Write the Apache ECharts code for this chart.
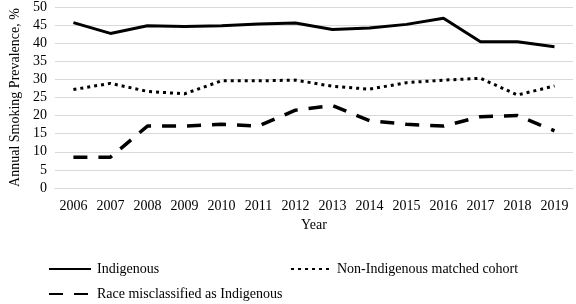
<!DOCTYPE html>
<html>
<head>
<meta charset="utf-8">
<script src="https://cdn.jsdelivr.net/npm/echarts@6/dist/echarts.min.js"></script>
<style>
html, body { margin: 0; padding: 0; background: #fff; }
#chart { width: 576px; height: 304px; }
</style>
</head>
<body>
<div id="chart"></div>
<script>
// 年份与三组吸烟率（%）
const years = ['2006', '2007', '2008', '2009', '2010', '2011', '2012', '2013', '2014', '2015', '2016', '2017', '2018', '2019'];
const indigenous = [45.7, 42.7, 44.8, 44.6, 44.8, 45.3, 45.6, 43.8, 44.2, 45.2, 46.9, 40.4, 40.4, 39.0];
const nonIndigenous = [27.2, 28.9, 26.7, 26.0, 29.6, 29.6, 29.8, 28.1, 27.3, 29.1, 29.8, 30.3, 25.7, 28.2];
const misclassified = [8.5, 8.5, 17.1, 17.1, 17.6, 17.1, 21.5, 22.8, 18.6, 17.6, 17.1, 19.7, 20.0, 15.8];

const names = ['Indigenous', 'Non-Indigenous matched cohort', 'Race misclassified as Indigenous'];
const font = 'Liberation Serif';
const txt = { fontFamily: font, fontSize: 14, color: '#000' };

const chart = echarts.init(document.getElementById('chart'));

function legendAt(name, left, top, w) {
    return {
        data: [name],
        left: left,
        top: top,
        itemWidth: w,
        itemHeight: 12,
        itemGap: 0,
        padding: 0,
        itemStyle: { opacity: 0 },
        textStyle: Object.assign({ padding: [0, 0, 0, 1] }, txt)
    };
}

const option = {
    animation: false,
    backgroundColor: '#fff',
    grid: { left: 50, right: 3, top: 7, bottom: 116 },
    legend: [
        legendAt(names[0], 48, 262, 42),
        legendAt(names[1], 290, 262, 40),
        legendAt(names[2], 48, 287, 42)
    ],
    xAxis: {
        type: 'category',
        data: years,
        boundaryGap: true,
        name: 'Year',
        nameLocation: 'middle',
        nameGap: 28,
        nameTextStyle: txt,
        axisLine: { lineStyle: { color: '#d9d9d9', width: 1 } },
        axisTick: { show: false },
        axisLabel: Object.assign({ margin: 11 }, txt)
    },
    yAxis: {
        type: 'value',
        min: 0,
        max: 50,
        interval: 5,
        name: 'Annual Smoking Prevalence, %',
        nameLocation: 'middle',
        nameGap: 31,
        nameTextStyle: txt,
        axisLine: { show: false },
        axisTick: { show: false },
        axisLabel: Object.assign({ margin: 8 }, txt),
        splitLine: { lineStyle: { color: '#d9d9d9', width: 1 } }
    },
    series: [
        {
            name: names[0],
            type: 'line',
            data: indigenous,
            symbol: 'none',
            color: '#000',
            lineStyle: { color: '#000', width: 3 }
        },
        {
            name: names[1],
            type: 'line',
            data: nonIndigenous,
            symbol: 'none',
            color: '#000',
            lineStyle: { color: '#000', width: 3, type: [3, 4] }
        },
        {
            name: names[2],
            type: 'line',
            data: misclassified,
            symbol: 'none',
            color: '#000',
            lineStyle: { color: '#000', width: 3.5, type: [14, 11] }
        }
    ]
};
chart.setOption(option);
</script>
</body>
</html>
